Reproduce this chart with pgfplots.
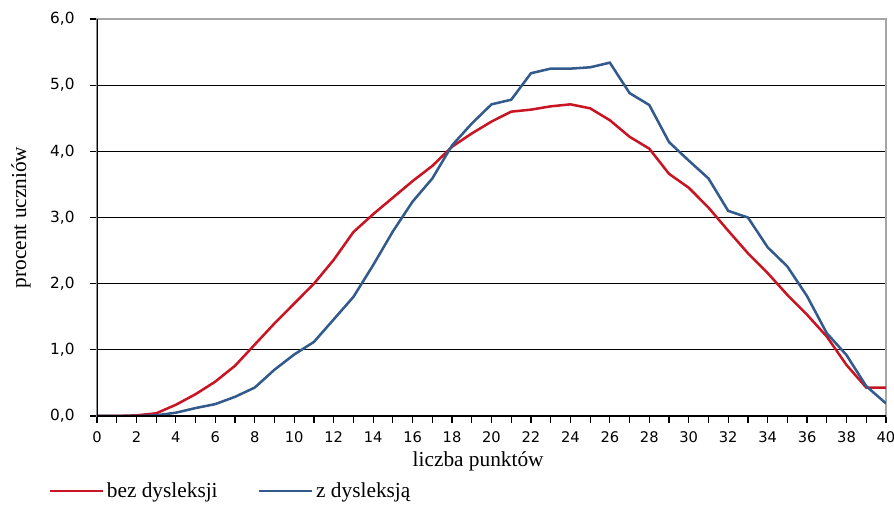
\documentclass[border=0pt]{standalone}
\usepackage{pgfplots}
\pgfplotsset{compat=1.18}
\usepackage{fontspec}
\setmainfont{Liberation Serif}
\newfontfamily\tickfont{DejaVu Sans}
\definecolor{cred}{RGB}{200,20,35}
\definecolor{cblue}{RGB}{50,90,140}
\begin{document}
\fontsize{11}{13}\selectfont
\begin{tikzpicture}
\path[use as bounding box] (-72.75pt,-71.25pt) rectangle (597.75pt,312pt);
\begin{axis}[
  at={(0pt,0pt)}, anchor=south west,
  scale only axis, width=591.75pt, height=297.75pt,
  xmin=0, xmax=40, ymin=0, ymax=6,
  axis line style={gray!70, line width=0.8pt},
  xtick={0,2,...,40}, minor xtick={1,3,...,39},
  ytick={0,1,...,6},
  xtick pos=left, ytick pos=left,
  xtick align=outside, ytick align=outside,
  major tick length=5pt, minor tick length=5pt,
  major tick style={black, line width=0.9pt},
  minor tick style={black, line width=0.9pt},
  ymajorgrids, grid style={black, line width=0.8pt},
  yticklabel style={/pgf/number format/use comma, /pgf/number format/fixed, /pgf/number format/fixed zerofill, /pgf/number format/precision=1, font=\tickfont\fontsize{11.5}{13}\selectfont},
  yticklabel shift=8pt,
  xticklabel style={font=\tickfont\fontsize{11}{13}\selectfont},
  xticklabel shift=3pt,
  /pgf/number format/assume math mode=true,
  xlabel={liczba punktów},
  xlabel style={at={(rel axis cs:0.5,0)}, anchor=center, yshift=-34pt, xshift=-10pt, font=\fontsize{16}{18}\selectfont},
  ylabel={procent uczniów},
  ylabel style={at={(rel axis cs:0,0.5)}, anchor=center, yshift=57pt, font=\fontsize{16}{18}\selectfont},
  legend columns=2,
  legend style={draw=none, fill=none, at={(rel axis cs:-0.062,-0.16)}, anchor=north west,
    font=\fontsize{16}{18}\selectfont, inner sep=0pt,
    /tikz/every even column/.append style={column sep=28pt}},
  legend image code/.code={\draw[#1] (0pt,0pt) -- (40pt,0pt);},
]
\addplot[cred, line width=1.9pt] coordinates {
(0,0) (1,0) (2,0.01) (3,0.04) (4,0.17) (5,0.33) (6,0.52) (7,0.76) (8,1.08) (9,1.4)
(10,1.7) (11,2.0) (12,2.36) (13,2.78) (14,3.05) (15,3.3) (16,3.55) (17,3.78) (18,4.07) (19,4.27)
(20,4.45) (21,4.6) (22,4.63) (23,4.68) (24,4.71) (25,4.65) (26,4.47) (27,4.22) (28,4.04) (29,3.66)
(30,3.45) (31,3.15) (32,2.8) (33,2.46) (34,2.16) (35,1.83) (36,1.53) (37,1.2) (38,0.77) (39,0.43) (40,0.43)
};
\addlegendentry{bez dysleksji}
\addplot[cblue, line width=1.9pt] coordinates {
(0,0) (1,0) (2,0) (3,0.01) (4,0.05) (5,0.12) (6,0.18) (7,0.29) (8,0.43) (9,0.7)
(10,0.93) (11,1.12) (12,1.46) (13,1.8) (14,2.28) (15,2.79) (16,3.24) (17,3.59) (18,4.09) (19,4.42)
(20,4.71) (21,4.78) (22,5.18) (23,5.25) (24,5.25) (25,5.27) (26,5.34) (27,4.88) (28,4.7) (29,4.14)
(30,3.86) (31,3.59) (32,3.1) (33,3.0) (34,2.55) (35,2.26) (36,1.81) (37,1.25) (38,0.92) (39,0.45) (40,0.19)
};
\addlegendentry{z dysleksją}
\draw[black, line width=0.8pt] (rel axis cs:0,1) -- (rel axis cs:0,0) -- (rel axis cs:1,0);
\end{axis}
\end{tikzpicture}
\end{document}
